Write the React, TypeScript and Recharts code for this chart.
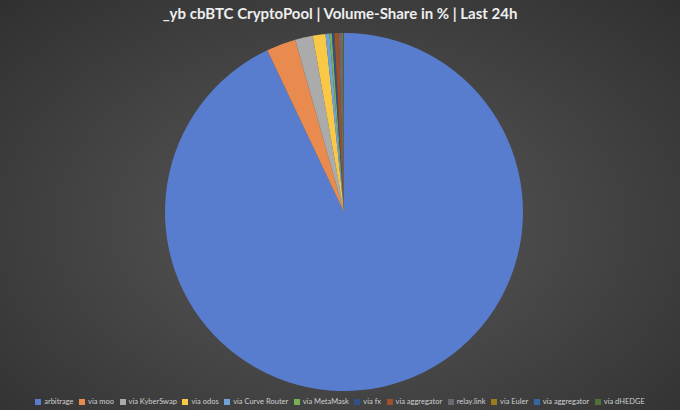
import { PieChart, Pie, Cell, Legend } from 'recharts';

const sources = [
  "arbitrage",
  "via moo",
  "via KyberSwap",
  "via odos",
  "via Curve Router",
  "via MetaMask",
  "via fx",
  "via aggregator",
  "relay.link",
  "via Euler",
  "via aggregator",
  "via dHEDGE",
];

const shares = [92.95, 2.65, 1.6, 1.15, 0.35, 0.22, 0.22, 0.4, 0.3, 0.08, 0.05, 0.03];

const colors = [
  "#587DCF", "#E98A4E", "#ABABAB", "#F9C846", "#6FA2D8", "#79B052",
  "#30508A", "#9E5028", "#6A6A6A", "#9C7A1E", "#3468A0", "#4E7236",
];

const data = sources.map((name, i) => ({ name, value: shares[i], key: i }));

function LegendContent() {
  return (
    <div style={{ display: 'flex', justifyContent: 'center', gap: 5.5, fontSize: 7.5, color: '#cfcfcf', fontFamily: 'Lato, sans-serif' }}>
      {sources.map((s, i) => (
        <span key={i} style={{ display: 'flex', alignItems: 'center' }}>
          <span style={{ width: 6, height: 6, background: colors[i], marginRight: 3, display: 'inline-block' }} />
          {s}
        </span>
      ))}
    </div>
  );
}

export default function App() {
  return (
    <div
      style={{
        width: 680,
        height: 410,
        position: 'relative',
        background: 'radial-gradient(ellipse at 50% 55%, #5a5a5a 0%, #474747 45%, #303030 100%)',
        fontFamily: 'Lato, sans-serif',
      }}
    >
      <style>{`body{margin:0}`}</style>
      <div
        style={{
          position: 'absolute',
          top: 4,
          left: 0,
          width: 680,
          textAlign: 'center',
          color: '#eeeeee',
          fontWeight: 700,
          fontSize: 15,
        }}
      >
        _yb cbBTC CryptoPool | Volume-Share in % | Last 24h
      </div>
      <PieChart width={680} height={410} style={{ position: 'absolute', top: 0, left: 0 }}>
        <Pie
          data={data}
          dataKey="value"
          nameKey="name"
          cx={339}
          cy={207}
          outerRadius={179}
          startAngle={90}
          endAngle={-270}
          stroke="none"
          isAnimationActive={false}
        >
          {data.map((d, i) => (
            <Cell key={d.key} fill={colors[i]} />
          ))}
        </Pie>
        <Legend verticalAlign="bottom" content={<LegendContent />} wrapperStyle={{ bottom: 4 }} />
      </PieChart>
    </div>
  );
}
